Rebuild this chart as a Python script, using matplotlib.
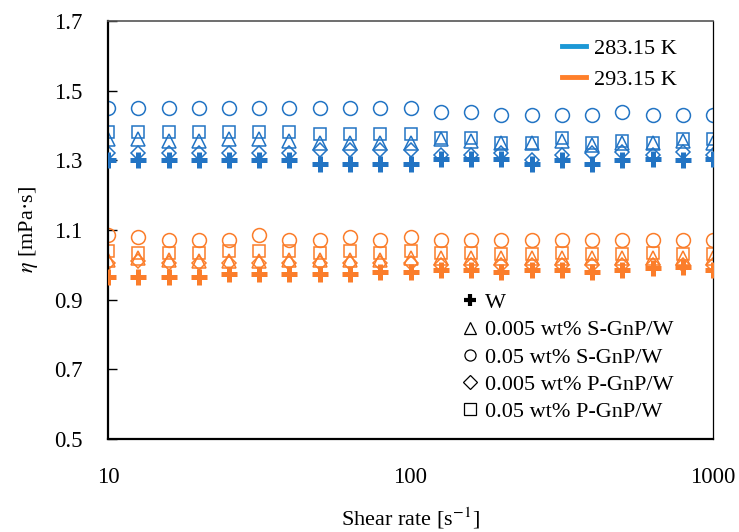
import matplotlib
matplotlib.use("Agg")
import matplotlib.pyplot as plt
from matplotlib.lines import Line2D

plt.rcParams['font.family'] = ['Liberation Serif', 'DejaVu Serif']
plt.rcParams['mathtext.fontset'] = 'stix'

shear_rate = [10, 12.59, 15.85, 19.95, 25.12, 31.62, 39.81, 50.12, 63.10, 79.43, 100,
              125.9, 158.5, 199.5, 251.2, 316.2, 398.1, 501.2, 631.0, 794.3, 1000]

# 283.15 K
w_283 = [1.30, 1.30, 1.30, 1.30, 1.30, 1.30, 1.30, 1.29, 1.29, 1.29, 1.29,
         1.305, 1.305, 1.305, 1.29, 1.30, 1.29, 1.30, 1.305, 1.30, 1.305]
s005_283 = [1.36, 1.36, 1.355, 1.355, 1.36, 1.36, 1.355, 1.35, 1.35, 1.35, 1.35,
            1.36, 1.355, 1.35, 1.35, 1.355, 1.345, 1.35, 1.35, 1.355, 1.35]
s05_283 = [1.45, 1.45, 1.45, 1.45, 1.45, 1.45, 1.45, 1.45, 1.45, 1.45, 1.45,
           1.44, 1.44, 1.43, 1.43, 1.43, 1.43, 1.44, 1.43, 1.43, 1.43]
p005_283 = [1.32, 1.32, 1.32, 1.32, 1.32, 1.32, 1.32, 1.33, 1.33, 1.33, 1.33,
            1.315, 1.315, 1.32, 1.30, 1.315, 1.32, 1.325, 1.315, 1.325, 1.315]
p05_283 = [1.38, 1.38, 1.38, 1.38, 1.38, 1.38, 1.38, 1.375, 1.375, 1.375, 1.375,
           1.365, 1.365, 1.35, 1.35, 1.365, 1.35, 1.355, 1.35, 1.36, 1.36]

# 293.15 K
w_293 = [0.965, 0.965, 0.965, 0.965, 0.975, 0.975, 0.975, 0.975, 0.975, 0.98, 0.98,
         0.985, 0.985, 0.98, 0.985, 0.985, 0.98, 0.985, 0.99, 0.995, 0.985]
s005_293 = [1.015, 1.02, 1.015, 1.01, 1.01, 1.01, 1.015, 1.015, 1.015, 1.015, 1.02,
            1.02, 1.02, 1.02, 1.02, 1.02, 1.02, 1.02, 1.02, 1.02, 1.02]
s05_293 = [1.085, 1.08, 1.07, 1.07, 1.07, 1.085, 1.07, 1.07, 1.08, 1.07, 1.08,
           1.07, 1.07, 1.07, 1.07, 1.07, 1.07, 1.07, 1.07, 1.07, 1.07]
p005_293 = [1.005, 1.01, 1.005, 1.005, 1.005, 1.005, 1.005, 1.005, 1.005, 1.005, 1.005,
            1.0, 1.0, 1.0, 1.0, 1.0, 1.0, 1.0, 1.0, 1.0, 1.0]
p05_293 = [1.04, 1.035, 1.035, 1.035, 1.04, 1.04, 1.04, 1.035, 1.04, 1.035, 1.04,
           1.035, 1.035, 1.03, 1.03, 1.035, 1.03, 1.03, 1.035, 1.03, 1.03]

temp_labels = ['283.15 K', '293.15 K']
sample_labels = ['W', '0.005 wt% S-GnP/W', '0.05 wt% S-GnP/W',
                 '0.005 wt% P-GnP/W', '0.05 wt% P-GnP/W']
y_ticks = [0.5, 0.7, 0.9, 1.1, 1.3, 1.5, 1.7]

blue = '#2274c4'
orange = '#fb7d2a'
leg_blue = '#1c98d6'
leg_orange = '#ff7f2a'

fig = plt.figure(figsize=(7.39, 5.32), dpi=100)
ax = fig.add_axes([108/739, 1-439/532, (713-108)/739, (439-21)/532])

open_kw = dict(linestyle='none', markerfacecolor='none', markeredgewidth=1.1)
for color, data in [(blue, (w_283, s005_283, s05_283, p005_283, p05_283)),
                    (orange, (w_293, s005_293, s05_293, p005_293, p05_293))]:
    w, s005, s05, p005, p05 = data
    ax.plot(shear_rate, s005, marker='^', markersize=9.5, markeredgecolor=color, **open_kw)
    ax.plot(shear_rate, s05, marker='o', markersize=10, markeredgecolor=color, **open_kw)
    ax.plot(shear_rate, p005, marker='D', markersize=7.5, markeredgecolor=color, **open_kw)
    ax.plot(shear_rate, p05, marker='s', markersize=9, markeredgecolor=color, **open_kw)
    ax.plot(shear_rate, w, marker='+', markersize=11, markeredgewidth=3.6,
            color=color, linestyle='none', zorder=3)

ax.set_xscale('log')
ax.set_xlim(10, 1000)
ax.set_ylim(0.5, 1.7)
ax.set_yticks(y_ticks)
ax.set_yticklabels([f'{v:.1f}' for v in y_ticks])
ax.set_xticks([10, 100, 1000])
ax.set_xticklabels(['10', '100', '1000'])
ax.xaxis.set_minor_locator(matplotlib.ticker.NullLocator())
ax.tick_params(axis='y', direction='in', length=6.5, width=1.0, pad=18.5, labelsize=16.5)
ax.tick_params(axis='x', length=0, pad=20, labelsize=16.5)

ax.spines['left'].set_linewidth(1.6)
ax.spines['bottom'].set_linewidth(1.6)
ax.spines['top'].set_linewidth(1.2)
ax.spines['top'].set_color('#555555')
ax.spines['right'].set_linewidth(0.9)

ax.set_xlabel(r'Shear rate [s$^{\mathrm{-1}}$]', fontsize=16, labelpad=13)
ax.set_ylabel(r'$\eta$ [mPa·s]', fontsize=16, labelpad=10)

h1 = [Line2D([], [], color=leg_blue, linewidth=3.5),
      Line2D([], [], color=leg_orange, linewidth=3.5)]
leg1 = ax.legend(h1, temp_labels, loc='upper left', frameon=False, fontsize=16,
                 handlelength=1.1, handletextpad=0.33, labelspacing=0.45,
                 borderpad=0, borderaxespad=0,
                 bbox_to_anchor=(0.750, 0.958))
ax.add_artist(leg1)

h2 = [Line2D([], [], color='black', marker='+', markersize=9, markeredgewidth=3, linestyle='none'),
      Line2D([], [], color='black', marker='^', markersize=9, markerfacecolor='none', markeredgewidth=0.9, linestyle='none'),
      Line2D([], [], color='black', marker='o', markersize=8, markerfacecolor='none', markeredgewidth=0.9, linestyle='none'),
      Line2D([], [], color='black', marker='D', markersize=7, markerfacecolor='none', markeredgewidth=0.9, linestyle='none'),
      Line2D([], [], color='black', marker='s', markersize=8.5, markerfacecolor='none', markeredgewidth=0.9, linestyle='none')]
leg2 = ax.legend(h2, sample_labels, loc='upper left', frameon=False, fontsize=16,
                 handlelength=0.7, handletextpad=0.3, labelspacing=0.3,
                 borderpad=0, borderaxespad=0,
                 bbox_to_anchor=(0.586, 0.350))

fig.savefig('out.png', dpi=100)
